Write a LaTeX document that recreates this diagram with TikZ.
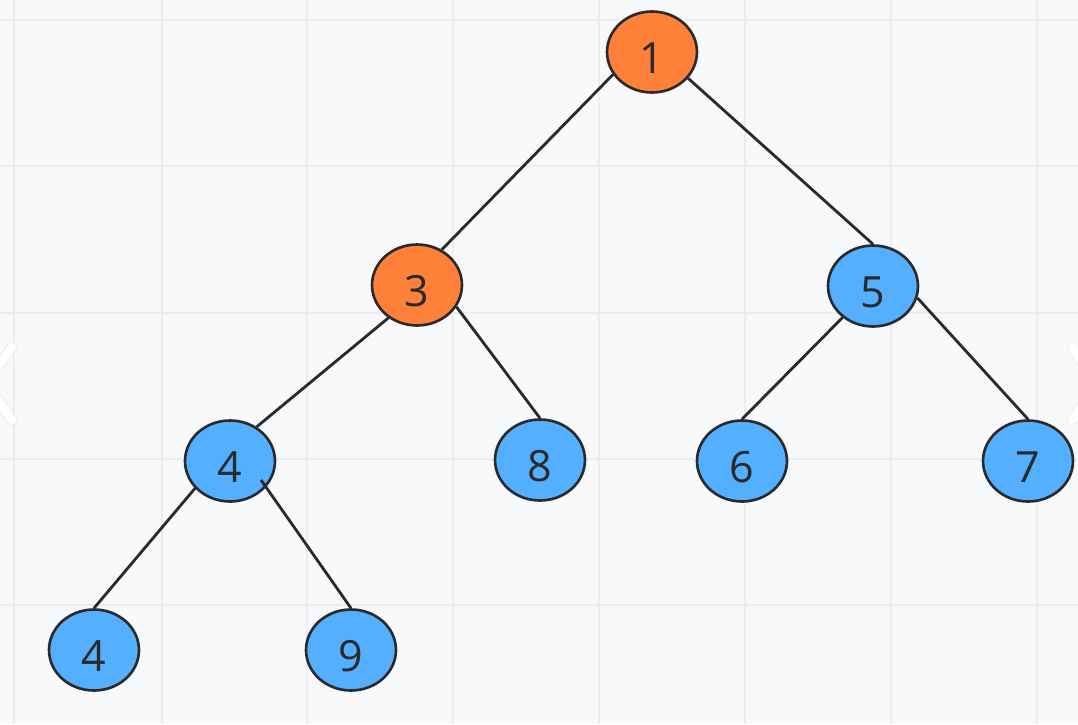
\documentclass[tikz,border=0pt]{standalone}
\usepackage{fontspec}
\setmainfont{Open Sans}
\usepackage{tikz}
\usetikzlibrary{shapes.geometric}
\definecolor{bg}{HTML}{F7F9FB}
\definecolor{gridc}{HTML}{EBEDF0}
\definecolor{heap}{HTML}{FF8039}
\definecolor{leaf}{HTML}{55AFFF}
\definecolor{ink}{HTML}{2A2A2A}
\begin{document}
\begin{tikzpicture}[x=0.02cm,y=-0.02cm]
\tikzstyle{vertex}=[ellipse,draw=ink,line width=1.5pt,minimum width=1.8cm,minimum height=1.62cm,inner sep=0pt,text=ink,text height=0.86cm,text depth=0pt,font=\fontsize{24.5}{24.5}\selectfont]
\tikzstyle{edge}=[draw=ink,line width=1.6pt]
\tikzstyle{gline}=[draw=gridc,line width=1.1pt]
\tikzstyle{chev}=[draw=white,line width=5pt,line cap=round,line join=round]
\useasboundingbox (0,0) rectangle (1078,724);
\clip (0,0) rectangle (1078,724);
\fill[bg] (0,0) rectangle (1078,724);
% grid
\draw[gline] (14,0) -- (14,724);
\draw[gline] (162,0) -- (162,724);
\draw[gline] (307,0) -- (307,724);
\draw[gline] (453,0) -- (453,724);
\draw[gline] (599,0) -- (599,724);
\draw[gline] (745,0) -- (745,724);
\draw[gline] (891,0) -- (891,724);
\draw[gline] (1037,0) -- (1037,724);
\draw[gline] (0,20) -- (1078,20);
\draw[gline] (0,166) -- (1078,166);
\draw[gline] (0,313) -- (1078,313);
\draw[gline] (0,459) -- (1078,459);
\draw[gline] (0,605) -- (1078,605);
% side arrows
\draw[chev,draw=gridc,line width=6.2pt] (12,347) -- (-14,383) -- (12,420);
\draw[chev] (12,347) -- (-14,383) -- (12,420);
\draw[chev,draw=gridc,line width=6.2pt] (1072,347) -- (1098,383) -- (1072,420);
\draw[chev] (1072,347) -- (1098,383) -- (1072,420);
% tree
\node[vertex,fill=heap] (1) at (652,52) {1};
\node[vertex,fill=heap] (2) at (417,285) {3};
\node[vertex,fill=leaf] (3) at (873,286) {5};
\node[vertex,fill=leaf] (4) at (230,461) {4};
\node[vertex,fill=leaf] (5) at (540,460) {8};
\node[vertex,fill=leaf] (6) at (742,461) {6};
\node[vertex,fill=leaf] (7) at (1028,461) {7};
\node[vertex,fill=leaf] (8) at (94,650) {4};
\node[vertex,fill=leaf] (9) at (351,650) {9};
\draw[edge] (1.210) -- (2.55);
\draw[edge] (1.-36) -- (3.north);
\draw[edge] (2.229) -- (4.52);
\draw[edge] (2.-29) -- (5.north);
\draw[edge] (3.226) -- (6.north);
\draw[edge] (3.-15) -- (7.north);
\draw[edge] (4.218) -- (8.north);
\draw[edge] ([shift={(31,19)}]4.center) -- (9.north);
\end{tikzpicture}
\end{document}
